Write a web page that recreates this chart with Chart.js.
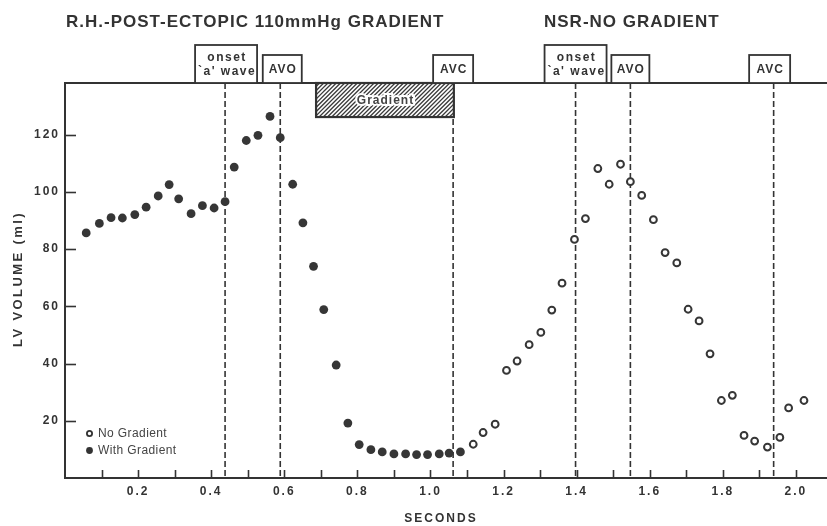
<!DOCTYPE html>
<html>
<head>
<meta charset="utf-8">
<script src="https://cdn.jsdelivr.net/npm/chart.js@4.4.1/dist/chart.umd.min.js"></script>
<style>
  html, body { margin: 0; padding: 0; background: #fff; }
  canvas { display: block; }
</style>
</head>
<body>
<canvas id="c" width="827" height="526"></canvas>
<script>
// LV volume (ml) against time (s): post-ectopic beat with gradient, then a normal sinus beat
const withGradientT = [0.058, 0.094, 0.126, 0.157, 0.191, 0.222, 0.255, 0.285, 0.311, 0.345,
  0.376, 0.408, 0.438, 0.463, 0.496, 0.528, 0.561, 0.589, 0.623, 0.651, 0.680, 0.708, 0.742,
  0.774, 0.805, 0.837, 0.868, 0.900, 0.932, 0.962, 0.992, 1.024, 1.051, 1.082];
const withGradientV = [85.7, 89.0, 91.0, 90.9, 92.1, 94.7, 98.6, 102.6, 97.6, 92.4,
  95.2, 94.4, 96.6, 108.7, 118.0, 119.8, 126.4, 119.0, 102.7, 89.2, 74.0, 58.9, 39.5,
  19.2, 11.7, 9.9, 9.1, 8.4, 8.4, 8.2, 8.2, 8.4, 8.7, 9.1];

const noGradientT = [1.117, 1.144, 1.177, 1.208, 1.237, 1.270, 1.302, 1.332, 1.360, 1.394,
  1.424, 1.458, 1.489, 1.520, 1.547, 1.578, 1.610, 1.642, 1.674, 1.705, 1.735, 1.765,
  1.796, 1.826, 1.858, 1.887, 1.922, 1.956, 1.980, 2.022];
const noGradientV = [11.8, 15.9, 18.8, 37.6, 40.9, 46.6, 50.9, 58.7, 68.1, 83.4,
  90.7, 108.2, 102.7, 109.7, 103.6, 98.8, 90.3, 78.8, 75.2, 59.0, 54.9, 43.4,
  27.1, 28.9, 14.9, 12.9, 10.8, 14.2, 24.5, 27.1];

// axis ticks
const xMinorTicks = [0.1, 0.2, 0.3, 0.4, 0.5, 0.6, 0.7, 0.8, 0.9, 1.0,
  1.1, 1.2, 1.3, 1.4, 1.5, 1.6, 1.7, 1.8, 1.9, 2.0];
const xLabelTicks = [0.2, 0.4, 0.6, 0.8, 1.0, 1.2, 1.4, 1.6, 1.8, 2.0];
const xTickLabels = ['0.2', '0.4', '0.6', '0.8', '1.0', '1.2', '1.4', '1.6', '1.8', '2.0'];
const yTicks = [20, 40, 60, 80, 100, 120];
const yTickLabels = ['20', '40', '60', '80', '100', '120'];

// cardiac events (s) and their labels
const eventTimes = [0.438, 0.589, 1.062, 1.397, 1.547, 1.939];
const eventLabels = [['onset', "`a' wave"], ['AVO'], ['AVC'], ['onset', "`a' wave"], ['AVO'], ['AVC']];

// period during which the gradient was applied (s)
const gradientOn = 0.687;
const gradientOff = 1.064;

const panelTitles = ['R.H.-POST-ECTOPIC 110mmHg GRADIENT', 'NSR-NO GRADIENT'];
const seriesNames = ['No Gradient', 'With Gradient'];

const INK = '#333333';
const FONT = "'Liberation Sans', Arial, Helvetica, sans-serif";

function pts(t, v) { return t.map((x, i) => ({ x: x, y: v[i] })); }

const decor = {
  id: 'decor',
  beforeDraw(chart) {
    const ctx = chart.ctx;
    ctx.save();
    ctx.fillStyle = '#fff';
    ctx.fillRect(0, 0, chart.width, chart.height);
    ctx.restore();
    ctx.letterSpacing = '2px';
  },
  beforeDatasetsDraw(chart) {
    const ctx = chart.ctx;
    const a = chart.chartArea;
    const xs = chart.scales.x, ys = chart.scales.y;
    ctx.save();
    ctx.strokeStyle = INK;
    // inward tick marks
    ctx.lineWidth = 1.6;
    xMinorTicks.forEach(v => {
      const px = Math.round(xs.getPixelForValue(v)) + 0.5;
      ctx.beginPath(); ctx.moveTo(px, a.bottom); ctx.lineTo(px, a.bottom - 8); ctx.stroke();
    });
    yTicks.forEach(v => {
      const py = Math.round(ys.getPixelForValue(v)) + 0.5;
      ctx.beginPath(); ctx.moveTo(a.left, py); ctx.lineTo(a.left + 11, py); ctx.stroke();
    });
    // dashed event lines
    ctx.lineWidth = 1.6;
    ctx.setLineDash([6, 3]);
    eventTimes.forEach(t => {
      const px = xs.getPixelForValue(t);
      ctx.beginPath(); ctx.moveTo(px, a.top); ctx.lineTo(px, a.bottom); ctx.stroke();
    });
    ctx.restore();
  },
  afterDraw(chart) {
    const ctx = chart.ctx;
    const a = chart.chartArea;
    const xs = chart.scales.x, ys = chart.scales.y;
    ctx.save();
    ctx.strokeStyle = INK;
    ctx.fillStyle = INK;

    // top frame line
    ctx.lineWidth = 2;
    ctx.beginPath(); ctx.moveTo(a.left, a.top); ctx.lineTo(chart.width, a.top); ctx.stroke();

    // hatched gradient bar
    const gx0 = xs.getPixelForValue(gradientOn), gx1 = xs.getPixelForValue(gradientOff);
    const gy0 = a.top, gy1 = ys.getPixelForValue(126.2);
    ctx.save();
    ctx.fillStyle = '#fff';
    ctx.fillRect(gx0, gy0, gx1 - gx0, gy1 - gy0);
    ctx.beginPath(); ctx.rect(gx0, gy0, gx1 - gx0, gy1 - gy0); ctx.clip();
    ctx.lineWidth = 1.3;
    ctx.strokeStyle = '#3a3a3a';
    for (let s = gx0 - 60; s < gx1 + 10; s += 4.2) {
      ctx.beginPath(); ctx.moveTo(s, gy1); ctx.lineTo(s + (gy1 - gy0), gy0); ctx.stroke();
    }
    ctx.restore();
    ctx.lineWidth = 2.2;
    ctx.strokeRect(gx0, gy0, gx1 - gx0, gy1 - gy0);
    ctx.font = 'bold 12px ' + FONT;
    ctx.letterSpacing = '1px';
    ctx.textAlign = 'center';
    ctx.textBaseline = 'middle';
    ctx.lineWidth = 4;
    ctx.strokeStyle = '#fff';
    const gcx = (gx0 + gx1) / 2 + 0.5;
    ctx.strokeText('Gradient', gcx, (gy0 + gy1) / 2 + 1);
    ctx.fillStyle = '#444';
    ctx.fillText('Gradient', gcx, (gy0 + gy1) / 2 + 1);

    // event label boxes sitting on the top frame
    const boxW = [62, 39, 40, 62, 38, 41];
    const boxDx = [1, 2, 0, 0, 0, -4];
    ctx.strokeStyle = INK;
    ctx.fillStyle = INK;
    eventTimes.forEach((t, i) => {
      const lines = eventLabels[i];
      const h = lines.length > 1 ? 38 : 28;
      const cx = xs.getPixelForValue(t) + boxDx[i];
      const x0 = cx - boxW[i] / 2;
      const y0 = a.top - h;
      ctx.fillStyle = '#fff';
      ctx.fillRect(x0, y0, boxW[i], h);
      ctx.lineWidth = 1.8;
      ctx.strokeRect(x0, y0, boxW[i], h);
      ctx.fillStyle = INK;
      ctx.font = 'bold 12px ' + FONT;
      ctx.textAlign = 'center';
      ctx.textBaseline = 'middle';
      if (lines.length > 1) {
        ctx.letterSpacing = '1.5px';
        ctx.fillText(lines[0], cx + 1, y0 + 12.5);
        ctx.fillText(lines[1], cx + 1, y0 + 27);
      } else {
        ctx.letterSpacing = '1px';
        ctx.fillText(lines[0], cx + 0.5, y0 + h / 2 + 1);
      }
    });

    // panel titles
    ctx.font = 'bold 17px ' + FONT;
    ctx.letterSpacing = '1px';
    ctx.textAlign = 'left';
    ctx.textBaseline = 'middle';
    ctx.fillText(panelTitles[0], 66, 22);
    ctx.fillText(panelTitles[1], 544, 22);

    // axis titles
    ctx.font = 'bold 12px ' + FONT;
    ctx.letterSpacing = '2px';
    ctx.textAlign = 'center';
    ctx.fillText('SECONDS', 441, 519);
    ctx.save();
    ctx.translate(18, 279);
    ctx.rotate(-Math.PI / 2);
    ctx.font = 'bold 13px ' + FONT;
    ctx.letterSpacing = '2.4px';
    ctx.fillText('LV VOLUME (ml)', 0, 0);
    ctx.restore();

    // legend
    ctx.font = '12px ' + FONT;
    ctx.letterSpacing = '0.4px';
    ctx.textAlign = 'left';
    ctx.fillStyle = '#444';
    ctx.fillText(seriesNames[0], 98, 434);
    ctx.fillText(seriesNames[1], 98, 451);
    ctx.lineWidth = 1.8;
    ctx.strokeStyle = INK;
    ctx.beginPath(); ctx.arc(89.5, 433.5, 2.6, 0, Math.PI * 2); ctx.stroke();
    ctx.fillStyle = INK;
    ctx.beginPath(); ctx.arc(89.5, 450.5, 3.4, 0, Math.PI * 2); ctx.fill();

    ctx.restore();
  },
  afterRender(chart) {
    chart.ctx.letterSpacing = '0px';
  }
};

new Chart(document.getElementById('c'), {
  type: 'scatter',
  data: {
    datasets: [
      {
        label: seriesNames[1],
        data: pts(withGradientT, withGradientV),
        pointRadius: 4.4,
        pointBackgroundColor: '#363636',
        pointBorderColor: '#363636',
        pointBorderWidth: 0
      },
      {
        label: seriesNames[0],
        data: pts(noGradientT, noGradientV),
        pointRadius: 3.4,
        pointBackgroundColor: '#fff',
        pointBorderColor: '#363636',
        pointBorderWidth: 2
      }
    ]
  },
  options: {
    responsive: false,
    animation: false,
    devicePixelRatio: 1,
    layout: { autoPadding: false, padding: { top: 83, left: 0, right: 0, bottom: 0 } },
    plugins: {
      legend: { display: false },
      tooltip: { enabled: false },
      title: { display: false }
    },
    scales: {
      x: {
        type: 'linear',
        min: 0,
        max: 2.085,
        afterBuildTicks: s => { s.ticks = xMinorTicks.map(v => ({ value: v })); },
        afterFit: s => { s.height = 48; },
        grid: { display: false, drawTicks: false },
        border: { display: true, color: INK, width: 2 },
        ticks: {
          autoSkip: false,
          maxRotation: 0,
          padding: 6,
          color: INK,
          font: { family: FONT, size: 12, weight: 'bold' },
          callback: v => {
            const i = xLabelTicks.findIndex(t => Math.abs(t - v) < 1e-6);
            return i >= 0 ? xTickLabels[i] : '';
          }
        }
      },
      y: {
        type: 'linear',
        min: 0,
        max: 138.1,
        afterBuildTicks: s => { s.ticks = yTicks.map(v => ({ value: v })); },
        afterFit: s => { s.width = 65; },
        grid: { display: false, drawTicks: false },
        border: { display: true, color: INK, width: 2 },
        ticks: {
          autoSkip: false,
          padding: 5,
          color: INK,
          font: { family: FONT, size: 12, weight: 'bold' },
          callback: v => {
            const i = yTicks.indexOf(v);
            return i >= 0 ? yTickLabels[i] : '';
          }
        }
      }
    }
  },
  plugins: [decor]
});
</script>
</body>
</html>
